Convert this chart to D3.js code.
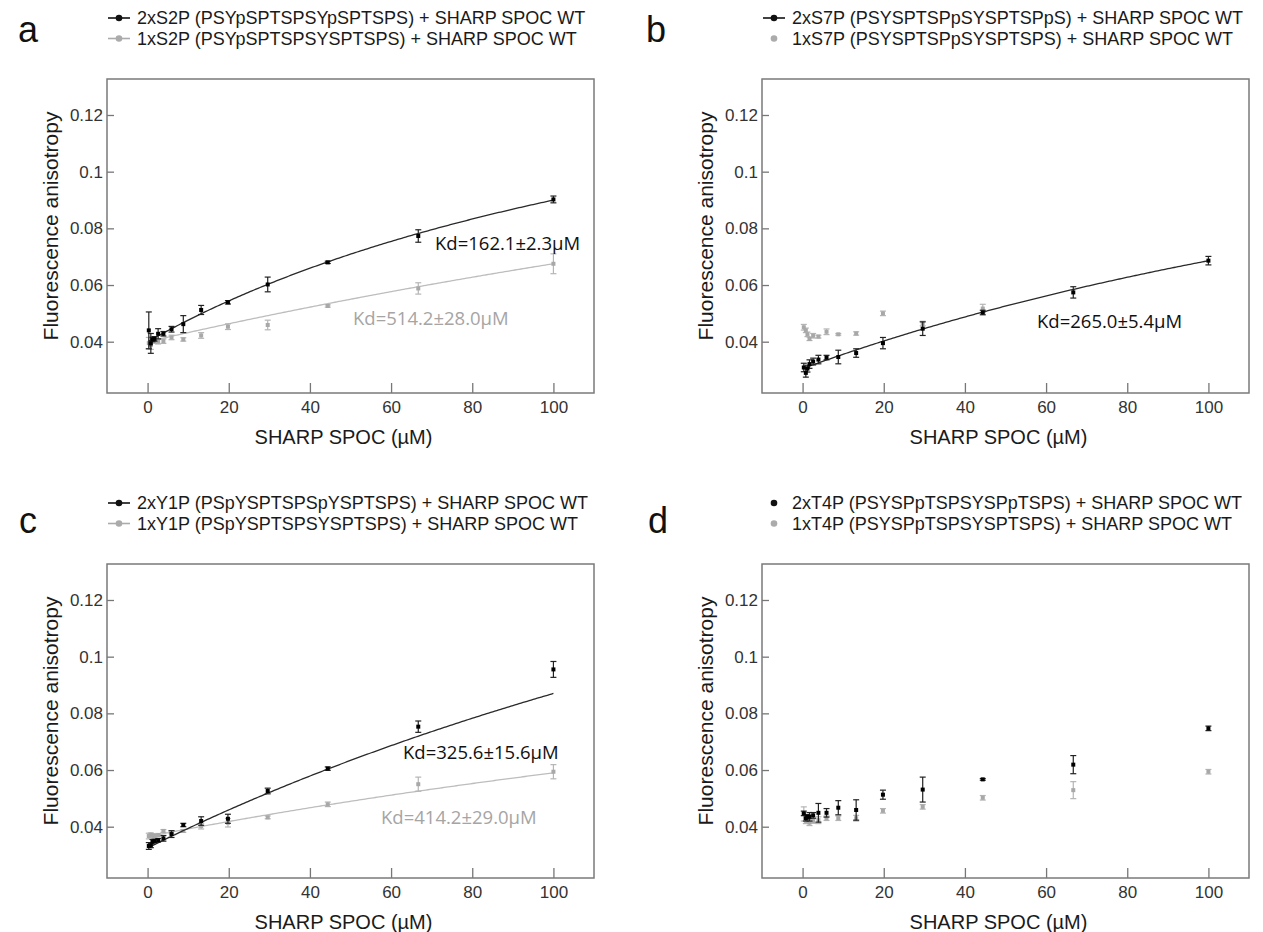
<!DOCTYPE html>
<html>
<head>
<meta charset="utf-8">
<script src="https://cdn.jsdelivr.net/npm/d3@7"></script>
<style>
  body { margin: 0; background: #fff; }
  svg { display: block; }
</style>
</head>
<body>
<svg id="fig" width="1263" height="932"></svg>
<script>
// SHARP SPOC titration concentrations (µM)
const conc = [0.3, 0.8, 1.2, 1.7, 2.6, 3.9, 5.9, 8.8, 13.2, 19.8, 29.6, 44.4, 66.7, 100];
const xTicks = [0, 20, 40, 60, 80, 100];
const yTicks = [0.04, 0.06, 0.08, 0.1, 0.12];
const yTickLabels = ["0.04", "0.06", "0.08", "0.1", "0.12"];

// a: S2P peptides
const s2p2Mean = [0.0440, 0.0394, 0.0408, 0.0410, 0.0428, 0.0428, 0.0444, 0.0462, 0.0512, 0.0539, 0.0602, 0.0680, 0.0773, 0.0902];
const s2p2Err  = [0.0065, 0.0035, 0.0008, 0.0008, 0.0018, 0.0008, 0.0010, 0.0030, 0.0016, 0.0006, 0.0026, 0.0004, 0.0022, 0.0012];
const s2p1Mean = [0.0395, 0.0388, 0.0405, 0.0402, 0.0400, 0.0402, 0.0415, 0.0408, 0.0422, 0.0453, 0.0459, 0.0526, 0.0588, 0.0675];
const s2p1Err  = [0.0020, 0.0015, 0.0008, 0.0008, 0.0008, 0.0008, 0.0008, 0.0006, 0.0010, 0.0010, 0.0017, 0.0004, 0.0020, 0.0035];

// b: S7P peptides
const s7p2Mean = [0.0309, 0.0290, 0.0305, 0.0321, 0.0330, 0.0337, 0.0344, 0.0346, 0.0360, 0.0395, 0.0446, 0.0503, 0.0574, 0.0686];
const s7p2Err  = [0.0015, 0.0015, 0.0012, 0.0015, 0.0012, 0.0015, 0.0008, 0.0024, 0.0015, 0.0020, 0.0024, 0.0008, 0.0020, 0.0015];
const s7p1Mean = [0.0451, 0.0440, 0.0426, 0.0410, 0.0421, 0.0418, 0.0435, 0.0426, 0.0429, 0.0500, 0.0464, 0.0517, null, null];
const s7p1Err  = [0.0010, 0.0008, 0.0008, 0.0006, 0.0008, 0.0005, 0.0010, 0.0003, 0.0006, 0.0008, 0.0008, 0.0015, null, null];

// c: Y1P peptides
const y1p2Mean = [0.0332, 0.0334, 0.0347, 0.0350, 0.0352, 0.0359, 0.0374, 0.0406, 0.0420, 0.0428, 0.0526, 0.0605, 0.0753, 0.0955];
const y1p2Err  = [0.0012, 0.0008, 0.0008, 0.0006, 0.0006, 0.0010, 0.0012, 0.0006, 0.0015, 0.0016, 0.0010, 0.0006, 0.0020, 0.0028];
const y1p1Mean = [0.0367, 0.0372, 0.0369, 0.0368, 0.0370, 0.0385, 0.0380, 0.0385, 0.0402, 0.0414, 0.0433, 0.0479, 0.0550, 0.0594];
const y1p1Err  = [0.0010, 0.0006, 0.0006, 0.0006, 0.0006, 0.0005, 0.0005, 0.0005, 0.0010, 0.0015, 0.0005, 0.0008, 0.0025, 0.0025];

// d: T4P peptides
const t4p2Mean = [0.0447, 0.0430, 0.0435, 0.0435, 0.0440, 0.0449, 0.0449, 0.0467, 0.0459, 0.0513, 0.0531, 0.0567, 0.0619, 0.0747];
const t4p2Err  = [0.0008, 0.0010, 0.0008, 0.0015, 0.0010, 0.0033, 0.0015, 0.0025, 0.0036, 0.0016, 0.0044, 0.0003, 0.0032, 0.0008];
const t4p1Mean = [0.0445, 0.0421, 0.0423, 0.0414, 0.0420, 0.0423, 0.0430, 0.0430, 0.0430, 0.0456, 0.0470, 0.0502, 0.0529, 0.0594];
const t4p1Err  = [0.0025, 0.0010, 0.0008, 0.0010, 0.0008, 0.0012, 0.0008, 0.0008, 0.0010, 0.0008, 0.0008, 0.0008, 0.0030, 0.0008];

// one-site binding fits: A(x) = a0 + span * x / (Kd + x)
const kdValues = [162.1, 514.2, 265.0, 325.6, 414.2];
const kdErrors = [2.3, 28.0, 5.4, 15.6, 29.0];
const fitA0    = [0.0400, 0.0400, 0.0305, 0.0325, 0.0365];
const fitSpan  = [0.131, 0.169, 0.139, 0.232, 0.1157];

const legendLabels = [
  ["2xS2P (PSYpSPTSPSYpSPTSPS) + SHARP SPOC WT", "1xS2P (PSYpSPTSPSYSPTSPS) + SHARP SPOC WT"],
  ["2xS7P (PSYSPTSPpSYSPTSPpS) + SHARP SPOC WT", "1xS7P (PSYSPTSPpSYSPTSPS) + SHARP SPOC WT"],
  ["2xY1P (PSpYSPTSPSpYSPTSPS) + SHARP SPOC WT", "1xY1P (PSpYSPTSPSYSPTSPS) + SHARP SPOC WT"],
  ["2xT4P (PSYSPpTSPSYSPpTSPS) + SHARP SPOC WT", "1xT4P (PSYSPpTSPSYSPTSPS) + SHARP SPOC WT"]
];
const panelLetters = ["a", "b", "c", "d"];

const DARK = "#111111", LIGHT = "#ababab";
const fit = i => ({ kd: kdValues[i], kdErr: kdErrors[i], a0: fitA0[i], span: fitSpan[i] });

const panels = [
  { letter: 0, left: 107, top: 79, letterX: 18, letterY: 42,
    series: [
      { mean: s2p2Mean, err: s2p2Err, color: DARK, fit: fit(0), legendLine: true, kdPos: [328, 163] },
      { mean: s2p1Mean, err: s2p1Err, color: LIGHT, fit: fit(1), legendLine: true, kdPos: [246, 238] }
    ] },
  { letter: 1, left: 762, top: 79, letterX: 646, letterY: 42,
    series: [
      { mean: s7p2Mean, err: s7p2Err, color: DARK, fit: fit(2), legendLine: true, kdPos: [275, 241] },
      { mean: s7p1Mean, err: s7p1Err, color: LIGHT, fit: null, legendLine: false }
    ] },
  { letter: 2, left: 107, top: 564, letterX: 19, letterY: 533,
    series: [
      { mean: y1p2Mean, err: y1p2Err, color: DARK, fit: fit(3), legendLine: true, kdPos: [296, 187] },
      { mean: y1p1Mean, err: y1p1Err, color: LIGHT, fit: fit(4), legendLine: true, kdPos: [274, 252] }
    ] },
  { letter: 3, left: 762, top: 564, letterX: 648, letterY: 533,
    series: [
      { mean: t4p2Mean, err: t4p2Err, color: DARK, fit: null, legendLine: false },
      { mean: t4p1Mean, err: t4p1Err, color: LIGHT, fit: null, legendLine: false }
    ] }
];

const W = 487, H = 314;
const svg = d3.select("#fig");
const SANS = "'Liberation Sans', Arial, sans-serif";
const HUMANIST = "'Open Sans', 'Noto Sans', sans-serif";

function drawPanel(p, pi) {
  const x = d3.scaleLinear().domain([-10, 110]).range([0, W]);
  const y = d3.scaleLinear().domain([0.0219, 0.1327]).range([H, 0]);

  // panel letter
  svg.append("text")
    .attr("x", p.letterX).attr("y", p.letterY)
    .attr("font-family", SANS).attr("font-size", 36).attr("fill", "#111")
    .text(panelLetters[p.letter]);

  // legend
  const lg = svg.append("g").attr("transform", `translate(${p.left},${p.top - 61})`);
  p.series.forEach((s, i) => {
    const row = lg.append("g").attr("transform", `translate(0,${i * 20.5})`);
    if (s.legendLine) {
      row.append("line").attr("x1", 1).attr("x2", 23).attr("y1", 0).attr("y2", 0)
        .attr("stroke", s.color).attr("stroke-width", 1.6);
    }
    row.append("circle").attr("cx", 12).attr("cy", 0).attr("r", 3.3).attr("fill", s.color);
    row.append("text").attr("x", 30).attr("y", 0).attr("dy", "0.35em")
      .attr("font-family", SANS).attr("font-size", 18).attr("fill", "#1a1a1a")
      .text(legendLabels[pi][i]);
  });

  const g = svg.append("g").attr("transform", `translate(${p.left},${p.top})`);

  // axes: ticks point inward, frame drawn separately
  const xAxis = d3.axisBottom(x).tickValues(xTicks).tickSizeInner(-10).tickSizeOuter(0).tickPadding(8);
  const gx = g.append("g").attr("transform", `translate(0,${H})`).call(xAxis);
  const yAxis = d3.axisLeft(y).tickValues(yTicks).tickFormat((d, i) => yTickLabels[i])
    .tickSizeInner(-7).tickSizeOuter(0).tickPadding(4);
  const gy = g.append("g").call(yAxis);
  [gx, gy].forEach(a => {
    a.select(".domain").remove();
    a.selectAll(".tick line").attr("stroke", "#777").attr("stroke-width", 1.3);
    a.selectAll(".tick text").attr("font-family", SANS).attr("font-size", 17).attr("fill", "#333");
  });

  g.append("rect").attr("width", W).attr("height", H)
    .attr("fill", "none").attr("stroke", "#7a7a7a").attr("stroke-width", 1.5);

  // axis titles
  g.append("text").attr("x", W / 2 - 7).attr("y", H + 44)
    .attr("text-anchor", "middle").attr("dominant-baseline", "central")
    .attr("font-family", SANS).attr("font-size", 20).attr("fill", "#1a1a1a")
    .text("SHARP SPOC (µM)");
  g.append("text")
    .attr("transform", `translate(-57,${H / 2 - 10}) rotate(-90)`)
    .attr("text-anchor", "middle").attr("dominant-baseline", "central")
    .attr("font-family", SANS).attr("font-size", 21).attr("fill", "#1a1a1a")
    .text("Fluorescence anisotropy");

  // draw the light series first so dark marks sit on top
  [...p.series].reverse().forEach(s => {
    const pts = conc.map((c, i) => ({ c, m: s.mean[i], e: s.err[i] })).filter(d => d.m != null);

    if (s.fit) {
      const f = s.fit;
      const grid = d3.range(0, 201).map(k => conc[0] + (conc[conc.length - 1] - conc[0]) * k / 200);
      const line = d3.line()
        .x(c => x(c))
        .y(c => y(f.a0 + f.span * c / (f.kd + c)));
      g.append("path").datum(grid).attr("d", line)
        .attr("fill", "none").attr("stroke", s.color === DARK ? "#2a2a2a" : "#bdbdbd")
        .attr("stroke-width", 1.3);
    }

    const eb = g.append("g").attr("stroke", s.color === DARK ? "#222" : "#b5b5b5").attr("stroke-width", 1.2);
    pts.forEach(d => {
      const y0 = y(d.m - d.e), y1 = y(d.m + d.e), cx = x(d.c);
      eb.append("line").attr("x1", cx).attr("x2", cx).attr("y1", y0).attr("y2", y1);
      eb.append("line").attr("x1", cx - 3).attr("x2", cx + 3).attr("y1", y0).attr("y2", y0);
      eb.append("line").attr("x1", cx - 3).attr("x2", cx + 3).attr("y1", y1).attr("y2", y1);
    });
    g.append("g").selectAll("rect").data(pts).join("rect")
      .attr("x", d => x(d.c) - 2).attr("y", d => y(d.m) - 2)
      .attr("width", 4).attr("height", 4)
      .attr("fill", s.color === DARK ? "#000" : "#a8a8a8");

    if (s.fit && s.kdPos) {
      g.append("text").attr("x", s.kdPos[0]).attr("y", s.kdPos[1])
        .attr("dominant-baseline", "central")
        .attr("font-family", HUMANIST).attr("font-size", 18.5)
        .attr("fill", s.color === DARK ? "#111" : "#a5a5a5")
        .text(`Kd=${s.fit.kd.toFixed(1)}±${s.fit.kdErr.toFixed(1)}µM`);
    }
  });
}

panels.forEach(drawPanel);
</script>
</body>
</html>
